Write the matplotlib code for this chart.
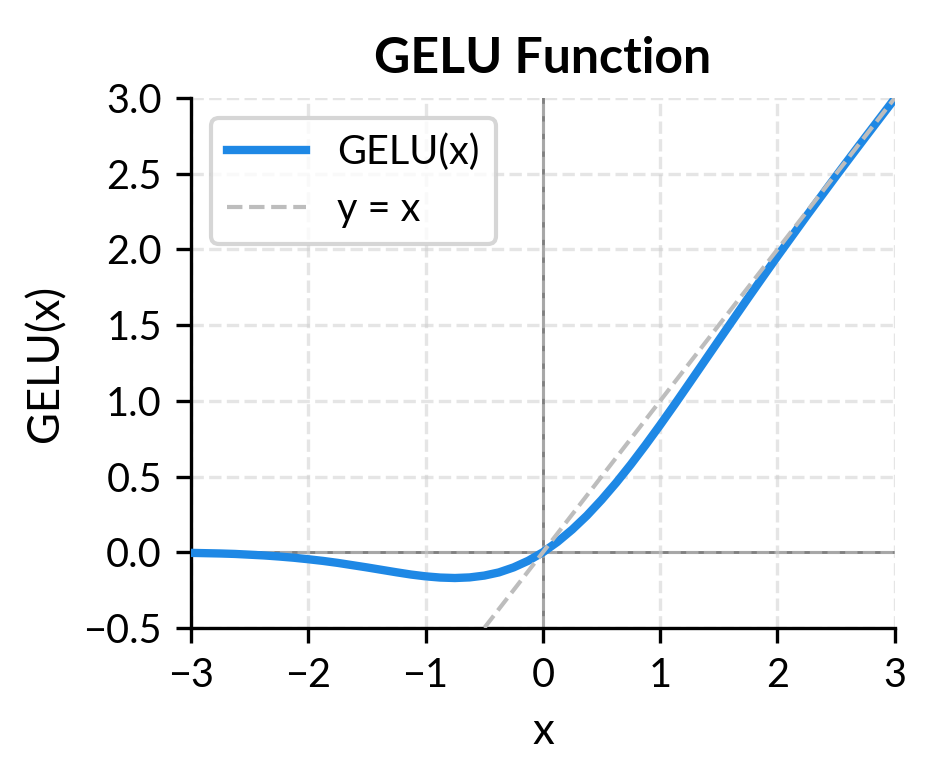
import numpy as np
import matplotlib
matplotlib.use("Agg")
import matplotlib.pyplot as plt

plt.rcParams['font.family'] = ['Lato', 'DejaVu Sans']

# GELU curve values
x_vals = [-3.0, -2.875, -2.75, -2.625, -2.5, -2.375, -2.25, -2.125, -2.0,
          -1.875, -1.75, -1.625, -1.5, -1.375, -1.25, -1.125, -1.0,
          -0.875, -0.75, -0.625, -0.5, -0.375, -0.25, -0.125, 0.0,
          0.125, 0.25, 0.375, 0.5, 0.625, 0.75, 0.875, 1.0,
          1.125, 1.25, 1.375, 1.5, 1.625, 1.75, 1.875, 2.0,
          2.125, 2.25, 2.375, 2.5, 2.625, 2.75, 2.875, 3.0]
gelu_vals = [-0.004, -0.006, -0.008, -0.011, -0.016, -0.021, -0.028, -0.036, -0.046,
             -0.057, -0.070, -0.085, -0.100, -0.116, -0.132, -0.147, -0.159,
             -0.167, -0.170, -0.166, -0.154, -0.133, -0.100, -0.056, 0.0,
             0.069, 0.150, 0.242, 0.346, 0.459, 0.580, 0.708, 0.841,
             0.978, 1.118, 1.259, 1.400, 1.540, 1.680, 1.818, 1.955,
             2.089, 2.223, 2.354, 2.485, 2.614, 2.742, 2.869, 2.996]

# identity reference line
ident_x = [-3.0, 3.0]
ident_y = [-3.0, 3.0]

xticks = [-3, -2, -1, 0, 1, 2, 3]
yticks = [-0.5, 0.0, 0.5, 1.0, 1.5, 2.0, 2.5, 3.0]

fig = plt.figure(figsize=(934 / 300, 784 / 300), dpi=300)
ax = fig.add_axes([0.2045, 0.199, 0.7535, 0.676])

ax.axhline(0, color='#808080', linewidth=0.7, zorder=1)
ax.axvline(0, color='#808080', linewidth=0.7, zorder=1)
ax.plot(x_vals, gelu_vals, color='#1e88e5', linewidth=2.0, label='GELU(x)', zorder=3)
ax.plot(ident_x, ident_y, color='#bdbdbd', linestyle='--', linewidth=1.0, label='y = x', zorder=4)

ax.set_xlim(-3, 3)
ax.set_ylim(-0.5, 3)
ax.set_xticks(xticks)
ax.set_yticks(yticks)
ax.grid(True, linestyle='--', color='#cccccc', linewidth=0.8, alpha=0.5)
ax.spines['top'].set_visible(False)
ax.spines['right'].set_visible(False)
ax.tick_params(labelsize=9.5)

ax.set_title('GELU Function', fontsize=12, fontweight='bold')
ax.set_xlabel('x', fontsize=10.5)
ax.set_ylabel('GELU(x)', fontsize=10.5)
ax.legend(loc='upper left', fontsize=9.5)

fig.savefig('out.png', dpi=300)
